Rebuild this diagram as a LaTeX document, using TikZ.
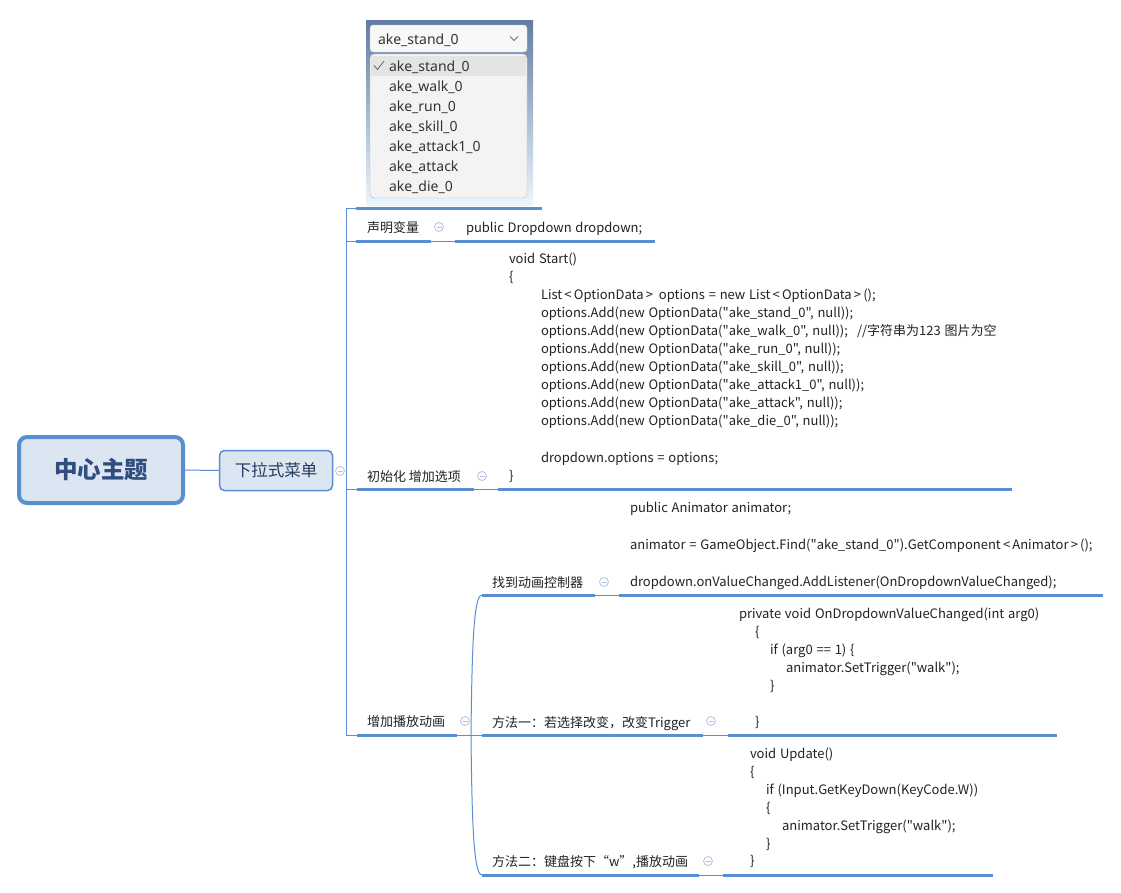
\documentclass[tikz,border=0pt]{standalone}
\usepackage{fontspec}
\setmainfont{Noto Sans CJK SC}
\newfontfamily\codefont{Noto Sans CJK SC}[Ligatures=TeXOff,WordSpace=1.3]
\newfontfamily\uifont{Noto Sans}
\definecolor{xblue}{HTML}{5A8ED2}
\definecolor{xfill}{HTML}{DCE6F2}
\definecolor{xtext}{HTML}{222222}
\definecolor{ctext}{HTML}{2F4D7E}
\definecolor{stext}{HTML}{253B5E}
\definecolor{coll}{HTML}{B4C2E2}
\definecolor{frtop}{HTML}{627CA3}
\definecolor{frmid}{HTML}{8FB3D9}
\definecolor{frbot}{HTML}{ECF6FD}
\definecolor{hdborder}{HTML}{C8C8C8}
\definecolor{hdfill}{HTML}{F8F8F8}
\definecolor{lsborder}{HTML}{B9B9B9}
\definecolor{lsfill}{HTML}{F3F3F3}
\definecolor{lshi}{HTML}{E4E4E4}
\tikzset{
  every node/.style={inner sep=0pt,outer sep=0pt},
  thinln/.style={draw=xblue,line width=1pt},
  thickln/.style={draw=xblue,line width=3pt},
  centretopic/.style={draw=xblue,line width=4pt,fill=xfill,rounded corners=8pt,
     minimum width=164pt,minimum height=66pt,text=ctext,font=\bfseries\fontsize{23.5}{28}\selectfont},
  subtopic/.style={draw=xblue,line width=1.5pt,fill=xfill,rounded corners=5pt,
     minimum width=113pt,minimum height=40pt,text=stext,font=\fontsize{16.5}{20}\selectfont},
  topictext/.style={anchor=base west,text=xtext,font=\fontsize{13}{16}\selectfont},
  codetext/.style={anchor=base west,text=xtext,font=\codefont\fontsize{13}{16}\selectfont},
  uitext/.style={anchor=base west,text=black!80,font=\uifont\fontsize{14}{16}\selectfont},
  collapse/.style={circle,draw=coll,line width=0.8pt,fill=white,minimum size=9pt,
     path picture={\draw[coll,line width=0.8pt]
       ([xshift=-2.5pt]path picture bounding box.center) --
       ([xshift=2.5pt]path picture bounding box.center);}}
}
\begin{document}
\begin{tikzpicture}[x=1pt,y=-1pt]
\useasboundingbox[fill=white] (0,0) rectangle (1121,892);

% ---------- dropdown picture ----------
\shade[top color=frtop, middle color=frmid, bottom color=frbot] (366,20) rectangle (533,205);
\node[draw=hdborder,fill=hdfill,rounded corners=3pt,
      minimum width=157pt,minimum height=27pt] (ddhead) at (448.5,38.5) {};
\node[uitext] (ddsel) at (378,44) {ake\_stand\_0};
\coordinate (chevL) at (510,36.5);
\coordinate (chevM) at (514,40.5);
\coordinate (chevR) at (518,36.5);
\draw[black!55,line width=0.8pt] (chevL) -- (chevM) -- (chevR);
\node[draw=lsborder,fill=lsfill,rounded corners=4pt,
      minimum width=157pt,minimum height=144pt] (ddlist) at (448.5,126) {};
\fill[lshi] (371,56) rectangle (526,76);
\coordinate (ck1) at (374,65.5);
\coordinate (ck2) at (377.5,69.5);
\coordinate (ck3) at (384,61);
\draw[black!60,line width=0.8pt] (ck1) -- (ck2) -- (ck3);
\node[uitext] (dd1) at (389,71) {ake\_stand\_0};
\node[uitext] (dd2) at (389,91) {ake\_walk\_0};
\node[uitext] (dd3) at (389,111) {ake\_run\_0};
\node[uitext] (dd4) at (389,131) {ake\_skill\_0};
\node[uitext] (dd5) at (389,151) {ake\_attack1\_0};
\node[uitext] (dd6) at (389,171) {ake\_attack};
\node[uitext] (dd7) at (389,191) {ake\_die\_0};

% ---------- central + main ----------
\node[centretopic] (center) at (101,470) {中心主题};
\node[subtopic] (sub) at (276,470.5) {下拉式菜单};
\draw[thinln] (center.east) -- (sub.west);
\node[collapse] (csub) at (340,471) {};

\coordinate (spT) at (346,208);
\coordinate (spB) at (346,735);
\draw[thinln] (spT) -- (spB);

% branch 0: picture
\coordinate (b0a) at (356,208);
\coordinate (b0b) at (542,208);
\draw[thinln] (spT) -- (b0a);
\draw[thickln] (b0a) -- (b0b);

% branch 1
\coordinate (b1s) at (346,241);
\coordinate (b1a) at (356,241);
\coordinate (b1b) at (431,241);
\coordinate (b1c) at (455,241);
\coordinate (b1d) at (655,241);
\node[topictext] (t1) at (367,232) {声明变量};
\node[collapse] (c1) at (439,227) {};
\node[codetext] (k1) at (466,232) {public Dropdown dropdown;};
\draw[thinln] (b1s) -- (b1a);
\draw[thickln] (b1a) -- (b1b);
\draw[thinln] (b1b) -- (b1c);
\draw[thickln] (b1c) -- (b1d);

% branch 2
\coordinate (b2s) at (346,489);
\coordinate (b2a) at (357,489);
\coordinate (b2b) at (474,489);
\coordinate (b2c) at (498,489);
\coordinate (b2d) at (1012,489);
\node[topictext] (t2) at (367,481) {初始化 增加选项};
\node[collapse] (c2) at (482,476) {};
\draw[thinln] (b2s) -- (b2a);
\draw[thickln] (b2a) -- (b2b);
\draw[thinln] (b2b) -- (b2c);
\draw[thickln] (b2c) -- (b2d);
\node[codetext] (s1) at (509,263.5) {void Start()};
\node[codetext] (s2) at (509,281.5) {\{};
\node[codetext] (s3) at (541,299.5) {List\,<\,OptionData\,>\, options = new List\,<\,OptionData\,>\,();};
\node[codetext] (s4) at (541,317.5) {options.Add(new OptionData("ake\_stand\_0", null));};
\node[codetext] (s5) at (541,335.5) {options.Add(new OptionData("ake\_walk\_0", null));};
\node[codetext] (s5c) at (857,335.5) {//字符串为123 图片为空};
\node[codetext] (s6) at (541,353.5) {options.Add(new OptionData("ake\_run\_0", null));};
\node[codetext] (s7) at (541,371.5) {options.Add(new OptionData("ake\_skill\_0", null));};
\node[codetext] (s8) at (541,389.5) {options.Add(new OptionData("ake\_attack1\_0", null));};
\node[codetext] (s9) at (541,407.5) {options.Add(new OptionData("ake\_attack", null));};
\node[codetext] (s10) at (541,425.5) {options.Add(new OptionData("ake\_die\_0", null));};
\node[codetext] (s11) at (541,462.5) {dropdown.options = options;};
\node[codetext] (s12) at (509,480.5) {\}};

% branch 3
\coordinate (b3a) at (357,735);
\coordinate (b3b) at (457,735);
\coordinate (b3c) at (482,735);
\node[topictext] (t3) at (367,726) {增加播放动画};
\node[collapse] (c3) at (465,721) {};
\draw[thinln] (spB) -- (b3a);
\draw[thickln] (b3a) -- (b3b);
\draw[thinln] (b3b) -- (b3c);

% bracket
\coordinate (brT) at (482,595);
\coordinate (brM) at (471,735);
\coordinate (brB) at (482,875);
\draw[thinln] (brT) .. controls (474,595) and (472,640) .. (brM)
                    .. controls (472,830) and (474,875) .. (brB);

% sub 3.1
\coordinate (u1a) at (482,595);
\coordinate (u1b) at (595,595);
\coordinate (u1c) at (619,595);
\coordinate (u1d) at (1103,595);
\node[topictext] (t31) at (492,587) {找到动画控制器};
\node[collapse] (c31) at (604,582) {};
\draw[thickln] (u1a) -- (u1b);
\draw[thinln] (u1b) -- (u1c);
\draw[thickln] (u1c) -- (u1d);
\node[codetext] (a1) at (630,512.5) {public Animator animator;};
\node[codetext] (a2) at (630,549.5) {animator = GameObject.Find("ake\_stand\_0").GetComponent\,<\,Animator\,>\,();};
\node[codetext] (a3) at (630,586.5) {dropdown.onValueChanged.AddListener(OnDropdownValueChanged);};

% sub 3.2
\coordinate (u2a) at (482,735);
\coordinate (u2b) at (703,735);
\coordinate (u2c) at (728,735);
\coordinate (u2d) at (1057,735);
\node[topictext] (t32) at (492,727) {方法一：若选择改变，改变Trigger};
\node[collapse] (c32) at (711,721) {};
\draw[thickln] (u2a) -- (u2b);
\draw[thinln] (u2b) -- (u2c);
\draw[thickln] (u2c) -- (u2d);
\node[codetext] (m1) at (739,618.5) {private void OnDropdownValueChanged(int arg0)};
\node[codetext] (m2) at (755,636.5) {\{};
\node[codetext] (m3) at (770,654.5) {if (arg0 == 1) \{};
\node[codetext] (m4) at (786,672.5) {animator.SetTrigger("walk");};
\node[codetext] (m5) at (770,690.5) {\}};
\node[codetext] (m6) at (755,726.5) {\}};

% sub 3.3
\coordinate (u3a) at (482,875);
\coordinate (u3b) at (699,875);
\coordinate (u3c) at (723,875);
\coordinate (u3d) at (993,875);
\node[topictext] (t33) at (492,866) {方法二：键盘按下“w”,播放动画};
\node[collapse] (c33) at (708,861) {};
\draw[thickln] (u3a) -- (u3b);
\draw[thinln] (u3b) -- (u3c);
\draw[thickln] (u3c) -- (u3d);
\node[codetext] (n1) at (750,758.5) {void Update()};
\node[codetext] (n2) at (750,776.5) {\{};
\node[codetext] (n3) at (766,794.5) {if (Input.GetKeyDown(KeyCode.W))};
\node[codetext] (n4) at (766,812.5) {\{};
\node[codetext] (n5) at (782,830.5) {animator.SetTrigger("walk");};
\node[codetext] (n6) at (766,848.5) {\}};
\node[codetext] (n7) at (750,865.5) {\}};
\end{tikzpicture}
\end{document}
